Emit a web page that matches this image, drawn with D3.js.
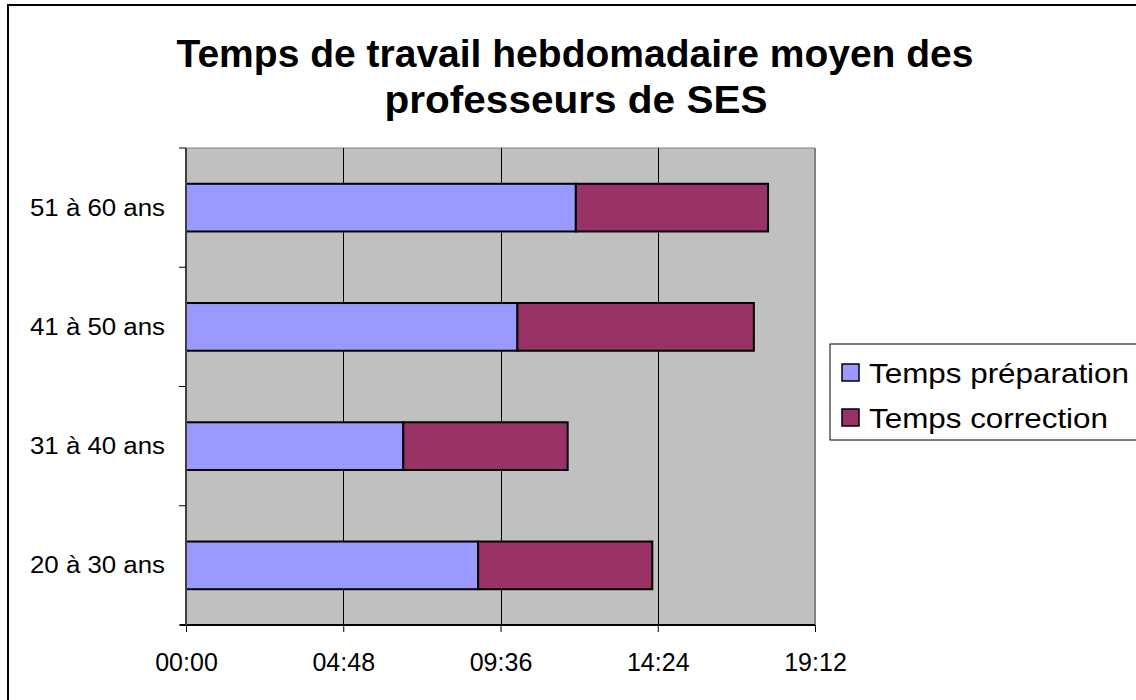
<!DOCTYPE html>
<html><head><meta charset="utf-8">
<script src="https://cdn.jsdelivr.net/npm/d3@7"></script>
<style>body{margin:0;background:#fff}svg{display:block}text{font-family:"Liberation Sans",Arial,sans-serif}</style>
</head><body><svg id="c" width="1136" height="700"></svg>
<script>
const categories = ["20 à 30 ans", "31 à 40 ans", "41 à 50 ans", "51 à 60 ans"];
const seriesNames = ["Temps préparation", "Temps correction"];
// minutes per week
const prepMinutes = [535, 398, 607, 714];
const corrMinutes = [319, 301, 433, 352];
const tickMinutes = [0, 288, 576, 864, 1152];
const colors = ["#9999FF", "#993366"];

const svg = d3.select("#c");
const L = 186, R = 815, T = 148, B = 625;

// outer frame
svg.append("rect").attr("x", 8).attr("y", 5).attr("width", 1140).attr("height", 710)
  .attr("fill", "none").attr("stroke", "#000").attr("stroke-width", 2);

// title
const title = svg.append("text").attr("text-anchor", "middle").attr("font-weight", "bold").attr("font-size", 39);
title.append("tspan").attr("x", 575).attr("y", 67).attr("textLength", 797).attr("lengthAdjust", "spacingAndGlyphs")
  .text("Temps de travail hebdomadaire moyen des");
title.append("tspan").attr("x", 576).attr("y", 113).attr("textLength", 383).attr("lengthAdjust", "spacingAndGlyphs")
  .text("professeurs de SES");

const x = d3.scaleLinear().domain([0, 1152]).range([L, R]);
const y = d3.scaleBand().domain(categories.slice().reverse()).range([T, B]).paddingInner(0.6).paddingOuter(0.3);

// plot background
svg.append("rect").attr("x", L).attr("y", T).attr("width", R - L).attr("height", B - T).attr("fill", "#C0C0C0");
svg.append("line").attr("x1", R).attr("x2", R).attr("y1", T).attr("y2", B).attr("stroke", "#808080").attr("stroke-width", 2);
svg.append("line").attr("x1", L).attr("x2", R).attr("y1", T).attr("y2", T).attr("stroke", "#808080").attr("stroke-width", 1);

// gridlines
svg.append("g").selectAll("line").data(tickMinutes.slice(1, -1)).join("line")
  .attr("x1", d => Math.round(x(d)) + 0.5).attr("x2", d => Math.round(x(d)) + 0.5)
  .attr("y1", T).attr("y2", B).attr("stroke", "#000").attr("stroke-width", 1);

// stacked bars
const data = categories.map((c, i) => ({cat: c, prep: prepMinutes[i], corr: corrMinutes[i]}));
const stack = d3.stack().keys(["prep", "corr"])(data);
svg.append("g").selectAll("g").data(stack).join("g").attr("fill", (d, i) => colors[i])
  .selectAll("rect").data(d => d).join("rect")
  .attr("x", d => x(d[0])).attr("width", d => x(d[1]) - x(d[0]))
  .attr("y", d => y(d.data.cat)).attr("height", y.bandwidth())
  .attr("stroke", "#000").attr("stroke-width", 2);

// x axis
const fmt = m => String(Math.floor(m / 60)).padStart(2, "0") + ":" + String(m % 60).padStart(2, "0");
const xAxis = svg.append("g").attr("transform", `translate(0,${B})`)
  .call(d3.axisBottom(x).tickValues(tickMinutes).tickFormat(fmt).tickSize(7).tickSizeOuter(0).tickPadding(21));
xAxis.select(".domain").attr("stroke", "#000").attr("stroke-width", 2).attr("d", `M${L - 6},0H${R}`);
xAxis.selectAll("text").attr("font-size", 25).attr("fill", "#000").style("font-family", "'Liberation Sans',Arial,sans-serif");

// y axis
const yTicks = d3.range(5).map(i => T + i * (B - T) / 4);
const yAxisG = svg.append("g");
yAxisG.append("line").attr("x1", L).attr("x2", L).attr("y1", T).attr("y2", B).attr("stroke", "#404040").attr("stroke-width", 2);
yAxisG.selectAll("line.t").data(yTicks).join("line").attr("class", "t")
  .attr("x1", L - 7).attr("x2", L).attr("y1", d => d).attr("y2", d => d).attr("stroke", "#000").attr("stroke-width", 1);
yAxisG.selectAll("text").data(categories).join("text")
  .attr("x", 30).attr("y", d => y(d) + y.bandwidth() / 2 + 8)
  .attr("font-size", 23).attr("textLength", 135).attr("lengthAdjust", "spacingAndGlyphs").text(d => d);

// legend
const legendWidths = [260, 239];
const lg = svg.append("g");
lg.append("rect").attr("x", 830).attr("y", 344).attr("width", 320).attr("height", 96)
  .attr("fill", "#fff").attr("stroke", "#000").attr("stroke-width", 1);
seriesNames.forEach((n, i) => {
  const base = 383 + i * 45;
  lg.append("rect").attr("x", 842).attr("y", base - 19).attr("width", 17).attr("height", 17)
    .attr("fill", colors[i]).attr("stroke", "#000").attr("stroke-width", 1.5);
  lg.append("text").attr("x", 869).attr("y", base).attr("font-size", 28)
    .attr("textLength", legendWidths[i]).attr("lengthAdjust", "spacingAndGlyphs").text(n);
});
</script></body></html>
